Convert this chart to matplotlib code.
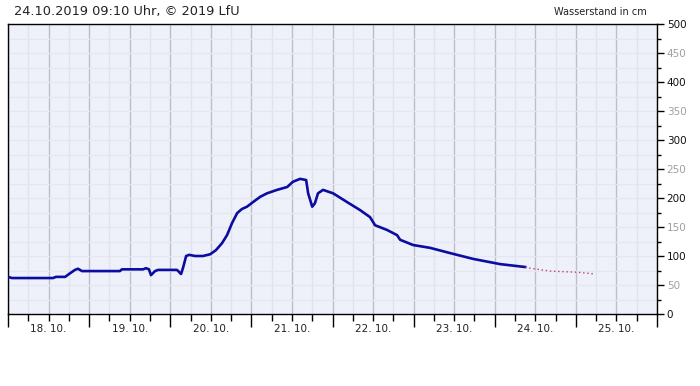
import datetime as dt
import numpy as np
import matplotlib
matplotlib.use("Agg")
import matplotlib.pyplot as plt
import matplotlib.dates as mdates
from matplotlib.ticker import MultipleLocator

# measured water level, hours after 18.10.2019 00:00
hours = [0, 1.2, 13.3, 14.2, 16.9, 18.3, 19.8, 20.7, 21.9, 33.1, 33.7, 40, 40.8,
         41.7, 42.3, 43.5, 44.4, 50, 51.2, 51.8, 52.7, 53.6, 55.3, 57.7, 59.8,
         61.5, 63.3, 64.8, 66.3, 67.8, 69.2, 70.7, 72.5, 74.6, 76.6, 79.6, 82.6,
         84.3, 86.4, 88.2, 88.8, 90, 90.8, 91.7, 93.2, 96.2, 100.3, 104.2, 107.1,
         108.6, 112.1, 115.1, 116, 119.8, 124.9, 130.8, 137.6, 145.6, 153]
level = [64, 62, 62, 64, 64, 70, 76, 78, 74, 74, 77, 77, 79,
         77, 67, 74, 76, 76, 69, 80, 100, 102, 100, 100, 103,
         110, 122, 136, 157, 174, 181, 185, 193, 202, 208, 214, 219,
         228, 233, 231, 208, 185, 191, 208, 214, 208, 193, 179, 167,
         153, 145, 136, 128, 119, 114, 105, 95, 86, 81]

# forecast
fc_hours = [153, 154.5, 160.4, 168.4, 173.7]
fc_level = [81, 79, 74, 72, 69]

start = dt.datetime(2019, 10, 18)
t = [start + dt.timedelta(hours=h) for h in hours]
tf = [start + dt.timedelta(hours=h) for h in fc_hours]

fig = plt.figure(figsize=(7, 3.86), dpi=100)
ax = fig.add_axes([8/700, 72/386, 649/700, 290/386])
ax.set_facecolor('#eef0fa')

ax.plot(t, level, color='#0c0ca0', lw=1.9, zorder=3)
ax.plot(tf, fc_level, color='#c04070', lw=1.0, ls=(0, (1, 2)), zorder=3)

ax.set_xlim(start, start + dt.timedelta(days=8))
ax.set_ylim(0, 500)

# grid
for h in range(0, 8*24 + 1, 6):
    x = start + dt.timedelta(hours=h)
    if h % 12 == 0:
        ax.axvline(x, color='#bcbec8', lw=1.0, zorder=1)
    else:
        ax.axvline(x, color='#e0e2ec', lw=1.0, zorder=1)
for y in np.arange(25, 500, 25):
    ax.axhline(y, color='#e4e6f1', lw=1.0, zorder=1)

# x ticks
ax.xaxis.set_major_locator(mdates.HourLocator(byhour=[0]))
ax.xaxis.set_minor_locator(mdates.HourLocator(byhour=[6, 12, 18]))
ax.xaxis.set_major_formatter(plt.NullFormatter())
ax.tick_params(axis='x', which='major', length=9, width=1, color='black', direction='out')
ax.tick_params(axis='x', which='minor', length=5, width=1, color='black', direction='out')
day_labels = ['18. 10.', '19. 10.', '20. 10.', '21. 10.', '22. 10.', '23. 10.', '24. 10.', '25. 10.']
for i, lab in enumerate(day_labels):
    ax.text(start + dt.timedelta(days=i, hours=12), -0.035, lab,
            transform=ax.get_xaxis_transform(), ha='center', va='top',
            fontsize=7.5, color='#222222')

# y ticks on right
ax.yaxis.tick_right()
ax.yaxis.set_major_locator(MultipleLocator(50))
ax.yaxis.set_minor_locator(MultipleLocator(25))
ax.tick_params(axis='y', which='major', length=5, width=1, labelsize=7.5, pad=2)
ax.tick_params(axis='y', which='minor', length=3, width=1)
fig.canvas.draw()
for lab, v in zip(ax.get_yticklabels(), ax.get_yticks()):
    lab.set_color('#111111' if v % 100 == 0 else '#a0a0a0')

for s in ax.spines.values():
    s.set_color('black')
    s.set_linewidth(1.0)

fig.text(14/700, 1 - 12/386, '24.10.2019 09:10 Uhr, \u00a9 2019 LfU',
         ha='left', va='center', fontsize=9.3, color='#222222')
fig.text(647/700, 1 - 12/386, 'Wasserstand in cm', ha='right', va='center',
         fontsize=7, color='#222222')

fig.savefig('out.png', dpi=100, facecolor='white')
